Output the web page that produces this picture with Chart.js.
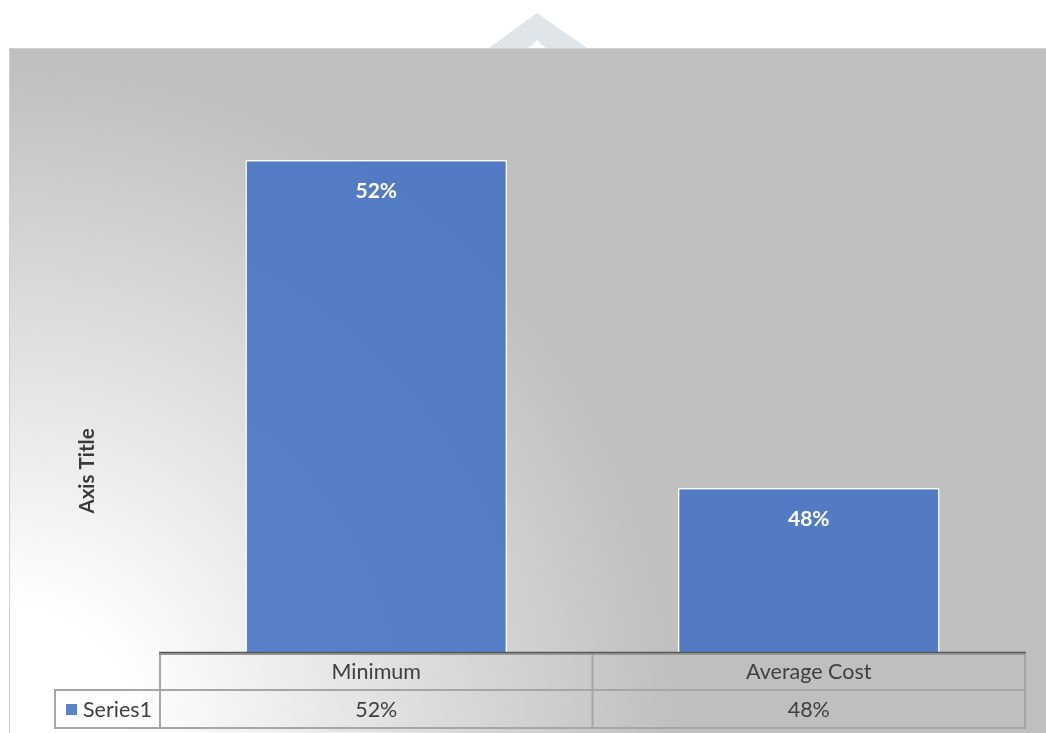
<!DOCTYPE html>
<html>
<head>
<meta charset="utf-8">
<title>Minimum vs Average Cost</title>
<script src="https://cdn.jsdelivr.net/npm/chart.js@4.4.1/dist/chart.umd.min.js"></script>
<style>
  html, body { margin: 0; padding: 0; background: #fff; }
  #chart { display: block; }
</style>
</head>
<body>
<canvas id="chart" width="1046" height="733"></canvas>
<script>
// Data
const categories = ['Minimum', 'Average Cost'];
const seriesName = 'Series1';
const seriesValues = [0.52, 0.48];
const yMin = 0.46;
const yMax = 0.53;

const FONT = 'Lato, "Open Sans", sans-serif';
const BAR_COLOR = 'rgba(68, 114, 196, 0.88)';
const TEXT_COLOR = '#404040';
const LINE_COLOR = '#a6a6a6';

function pct(v) {
  return Math.round(v * 100) + '%';
}

// Frame background, border and the small mark above it
const backgroundPlugin = {
  id: 'frameBackground',
  beforeDraw(chart) {
    const { ctx, width, height } = chart;
    ctx.save();

    ctx.fillStyle = '#dfe5e8';
    ctx.beginPath();
    ctx.moveTo(537, 13);
    ctx.lineTo(587, 48);
    ctx.lineTo(546, 48);
    ctx.quadraticCurveTo(540, 44, 537, 40);
    ctx.quadraticCurveTo(534, 44, 528, 48);
    ctx.lineTo(489, 48);
    ctx.closePath();
    ctx.fill();

    const g = ctx.createRadialGradient(9, height, 0, 9, height, 670);
    g.addColorStop(0, '#ffffff');
    g.addColorStop(0.18, '#ffffff');
    g.addColorStop(1, '#bfbfbf');
    ctx.fillStyle = g;
    ctx.fillRect(9, 48, width - 9, height - 48);

    ctx.strokeStyle = '#d0d0d0';
    ctx.lineWidth = 1;
    ctx.beginPath();
    ctx.moveTo(9.5, height);
    ctx.lineTo(9.5, 48.5);
    ctx.lineTo(width, 48.5);
    ctx.stroke();
    ctx.restore();
  }
};

// Value labels inside the top of each bar
const barLabelPlugin = {
  id: 'barLabels',
  afterDatasetsDraw(chart) {
    const { ctx } = chart;
    const meta = chart.getDatasetMeta(0);
    ctx.save();
    ctx.fillStyle = '#ffffff';
    ctx.font = 'bold 21px ' + FONT;
    ctx.textAlign = 'center';
    ctx.textBaseline = 'middle';
    meta.data.forEach((bar, i) => {
      ctx.fillText(pct(seriesValues[i]), bar.x, bar.y + 31);
    });
    ctx.restore();
  }
};

// Data table under the plot, plus the vertical axis title
const dataTablePlugin = {
  id: 'dataTable',
  afterDraw(chart) {
    const { ctx, chartArea } = chart;
    const x = chart.scales.x;
    const left = chartArea.left;
    const right = chartArea.right;
    const top = chartArea.bottom;
    const rowSplit = 690;
    const bottom = 728;
    const keyLeft = 55;

    ctx.save();

    // cell borders
    ctx.strokeStyle = LINE_COLOR;
    ctx.lineWidth = 2;
    ctx.beginPath();
    const edges = [left];
    for (let i = 1; i < categories.length; i++) {
      edges.push((x.getPixelForValue(i - 1) + x.getPixelForValue(i)) / 2);
    }
    edges.push(right);
    edges.forEach(ex => {
      ctx.moveTo(ex, top);
      ctx.lineTo(ex, bottom + 1);
    });
    ctx.moveTo(keyLeft, rowSplit);
    ctx.lineTo(right, rowSplit);
    ctx.moveTo(keyLeft, bottom);
    ctx.lineTo(right, bottom);
    ctx.moveTo(keyLeft, rowSplit - 1);
    ctx.lineTo(keyLeft, bottom + 1);
    ctx.stroke();

    // category axis line
    ctx.strokeStyle = '#9a9a9a';
    ctx.lineWidth = 2;
    ctx.beginPath();
    ctx.moveTo(left - 1, top + 2);
    ctx.lineTo(right + 1, top + 2);
    ctx.stroke();
    ctx.strokeStyle = '#595959';
    ctx.lineWidth = 1.5;
    ctx.beginPath();
    ctx.moveTo(left - 1, top + 0.5);
    ctx.lineTo(right + 1, top + 0.5);
    ctx.stroke();

    // header and value rows
    ctx.fillStyle = TEXT_COLOR;
    ctx.font = '21.5px ' + FONT;
    ctx.textAlign = 'center';
    ctx.textBaseline = 'middle';
    categories.forEach((c, i) => {
      const cx = x.getPixelForValue(i);
      ctx.fillText(c, cx, 672);
      ctx.fillText(pct(seriesValues[i]), cx, 710);
    });

    // series key
    ctx.fillStyle = BAR_COLOR;
    ctx.fillRect(66, 704, 11, 11);
    ctx.fillStyle = TEXT_COLOR;
    ctx.textAlign = 'left';
    ctx.fillText(seriesName, 83, 710);

    // axis title
    ctx.translate(87, 471);
    ctx.rotate(-Math.PI / 2);
    ctx.textAlign = 'center';
    ctx.font = 'bold 20.5px ' + FONT;
    ctx.fillStyle = '#3a3a3a';
    ctx.fillText('Axis Title', 0, 0);

    ctx.restore();
  }
};

const ctx = document.getElementById('chart').getContext('2d');
new Chart(ctx, {
  type: 'bar',
  data: {
    labels: categories,
    datasets: [{
      label: seriesName,
      data: seriesValues,
      backgroundColor: BAR_COLOR,
      borderColor: '#ffffff',
      borderWidth: 1.5,
      categoryPercentage: 0.605,
      barPercentage: 1,
    }],
  },
  options: {
    responsive: false,
    animation: false,
    devicePixelRatio: 1,
    layout: {
      padding: { left: 160, right: 21, top: 78, bottom: 81 },
    },
    plugins: {
      legend: { display: false },
      tooltip: { enabled: false },
    },
    scales: {
      x: { display: false },
      y: { display: false, min: yMin, max: yMax, beginAtZero: false },
    },
  },
  plugins: [backgroundPlugin, barLabelPlugin, dataTablePlugin],
});
</script>
</body>
</html>
